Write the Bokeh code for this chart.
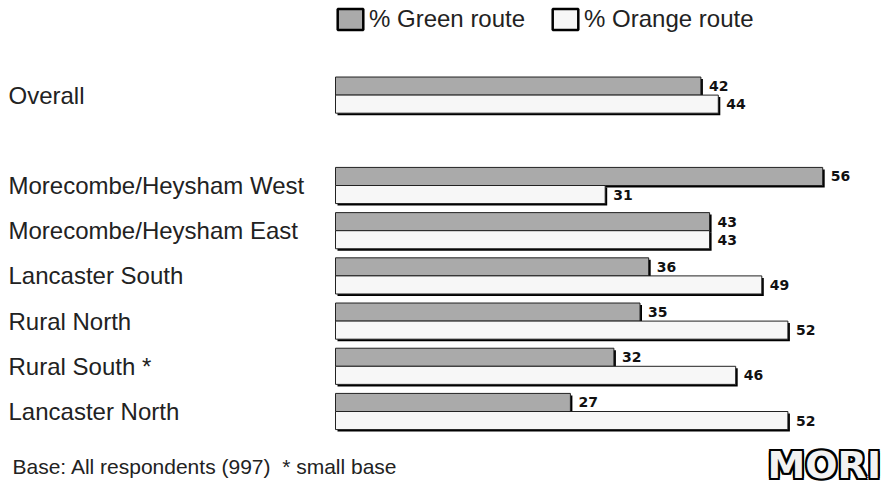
from bokeh.plotting import figure
from bokeh.models import Range1d, Label, Legend, LegendItem, ColumnDataSource
from bokeh.core.properties import value
from bokeh.embed import file_html
from bokeh.resources import INLINE

# --- data ---------------------------------------------------------------
categories = ["Overall", "Morecombe/Heysham West", "Morecombe/Heysham East",
              "Lancaster South", "Rural North", "Rural South *", "Lancaster North"]
slots = [0, 2, 3, 4, 5, 6, 7]          # row index of each category (row 1 left blank)
green = [42, 56, 43, 36, 35, 32, 27]
orange = [44, 31, 43, 49, 52, 46, 52]
series_names = ["% Green route", "% Orange route"]
footer_text = "Base: All respondents (997)\u00a0 * small base"
logo_text = "MORI"

# --- geometry / style ---------------------------------------------------
W, H = 893, 489
PX_PER_UNIT = 8.7        # horizontal pixels per percentage point
ZERO_PX = 335            # pixel column of the 0% baseline
ROW_PX = 45.2            # pixel pitch between category rows
ROW0_PX = 94.6           # pixel row of the first category centre
BAR_H = 0.4              # bar thickness in row units
GREEN_FILL = "#aaaaaa"
ORANGE_FILL = "#f7f7f7"
EDGE = "#222222"
LABEL_FONT = "Liberation Sans"

x_start = -ZERO_PX / PX_PER_UNIT
x_end = x_start + W / PX_PER_UNIT
y_top = -ROW0_PX / ROW_PX
y_bottom = (H - ROW0_PX) / ROW_PX

p = figure(width=W, height=H, x_range=Range1d(x_start, x_end),
           y_range=Range1d(y_bottom, y_top),
           x_axis_location=None, y_axis_location=None,
           tools="", toolbar_location=None, output_backend="svg",
           min_border=0, background_fill_color="white",
           border_fill_color="white", outline_line_color=None)
p.grid.visible = False

shadow_dx = 2 / PX_PER_UNIT
shadow_dy = 2 / ROW_PX

green_y = [s - BAR_H / 2 for s in slots]
orange_y = [s + BAR_H / 2 for s in slots]

src = ColumnDataSource(dict(
    cat=categories, slot=slots, green=green, orange=orange,
    green_y=green_y, orange_y=orange_y,
    green_sy=[y + shadow_dy for y in green_y],
    orange_sy=[y + shadow_dy for y in orange_y],
    green_sx=[v + shadow_dx for v in green],
    orange_sx=[v + shadow_dx for v in orange],
    green_lbl=[str(v) for v in green],
    orange_lbl=[str(v) for v in orange],
    label_x=[x_start] * len(categories),
))

# green bars with drop shadow
p.hbar(y="green_sy", left=shadow_dx, right="green_sx", height=BAR_H, source=src,
       fill_color="black", line_color=None)
p.hbar(y="green_y", left=0, right="green", height=BAR_H, source=src,
       fill_color=GREEN_FILL, line_color=EDGE, line_width=1)
# orange bars with drop shadow
p.hbar(y="orange_sy", left=shadow_dx, right="orange_sx", height=BAR_H, source=src,
       fill_color="black", line_color=None)
p.hbar(y="orange_y", left=0, right="orange", height=BAR_H, source=src,
       fill_color=ORANGE_FILL, line_color=EDGE, line_width=1)

# value labels
for xcol, ycol, tcol in (("green", "green_y", "green_lbl"),
                         ("orange", "orange_y", "orange_lbl")):
    p.text(x=xcol, y=ycol, text=tcol, source=src, x_offset=8,
           text_font=value("DejaVu Sans"), text_font_style="bold",
           text_font_size="14px", text_baseline="middle", text_align="left",
           text_color="#111111")

# category labels
p.text(x="label_x", y="slot", text="cat", source=src, x_offset=8, y_offset=0,
       text_font=value(LABEL_FONT), text_font_size="24px",
       text_baseline="middle", text_align="left", text_color="#222222")

# legend swatches: hidden copies of the bars with a heavier outline
g_key = p.hbar(y="green_y", right="green", left=0, height=BAR_H, source=src,
               fill_color=GREEN_FILL, line_color="black", line_width=2.5,
               visible=False)
o_key = p.hbar(y="orange_y", right="orange", left=0, height=BAR_H, source=src,
               fill_color=ORANGE_FILL, line_color="black", line_width=2.5,
               visible=False)
legend = Legend(items=[LegendItem(label=series_names[0], renderers=[g_key]),
                       LegendItem(label=series_names[1], renderers=[o_key])],
                orientation="horizontal", location=(334, H - 33),
                glyph_width=32, glyph_height=26, label_standoff=3, spacing=24,
                padding=0, margin=0, border_line_alpha=0,
                background_fill_alpha=0, inactive_fill_alpha=0,
                label_text_font=LABEL_FONT,
                label_text_font_size="24px", label_text_color="#222222",
                label_height=26)
p.add_layout(legend, "center")

# footer note
p.add_layout(Label(x=12, y=H - 466, x_units="screen", y_units="screen",
                   text=footer_text, text_font=LABEL_FONT,
                   text_font_size="21px", text_baseline="middle",
                   text_color="#222222"))

# outlined logo lettering
logo_x, logo_top = 767, H - 442
for dx, dy in ((-2, -2), (0, -2), (2, -2), (-2, 0), (2, 0), (-2, 2), (0, 2), (2, 2)):
    p.add_layout(Label(x=logo_x + dx, y=logo_top + dy, x_units="screen",
                       y_units="screen", text=logo_text,
                       text_font="DejaVu Sans", text_font_style="bold",
                       text_font_size="38px", text_baseline="top",
                       text_color="black"))
p.add_layout(Label(x=logo_x, y=logo_top, x_units="screen", y_units="screen",
                   text=logo_text, text_font="DejaVu Sans", text_font_style="bold",
                   text_font_size="38px", text_baseline="top",
                   text_color="#f2f2f2"))

open("out.html", "w").write(file_html(p, INLINE))
